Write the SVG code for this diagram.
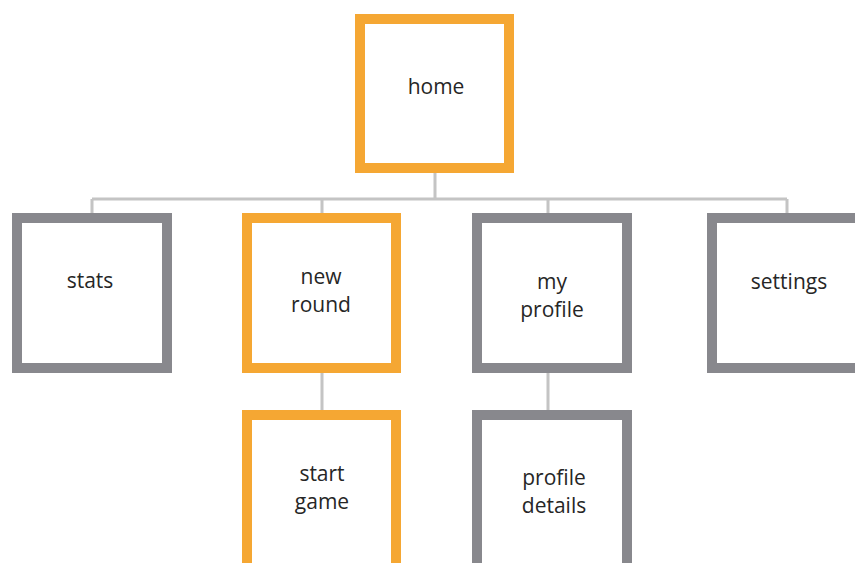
<svg xmlns="http://www.w3.org/2000/svg" width="855" height="563" viewBox="0 0 855 563">
<style>
.o{fill:#fff;stroke:#f5a733;stroke-width:10}
.g{fill:#fff;stroke:#88888d;stroke-width:10}
.c{fill:none;stroke:#c4c4c4;stroke-width:3}
text{font-family:"Open Sans","Liberation Sans",sans-serif;font-size:21px;fill:#262626;text-anchor:middle}
</style>
<rect width="855" height="563" fill="#fff"/>
<g id="connectors">
<path class="c" d="M435 173V199M92 199H787M92 199V213M322 199V213M548 199V213M787 199V213M322 373V410M548 373V410"/>
</g>
<g id="home"><rect class="o" x="360" y="19" width="149" height="149"/><text x="436" y="94">home</text></g>
<g id="stats"><rect class="g" x="17" y="218" width="150" height="150"/><text x="90" y="288">stats</text></g>
<g id="new-round"><rect class="o" x="247" y="218" width="149" height="150"/><text x="321" y="284">new</text><text x="321" y="312">round</text></g>
<g id="my-profile"><rect class="g" x="477" y="218" width="150" height="150"/><text x="552" y="289">my</text><text x="552" y="317">profile</text></g>
<g id="settings"><rect class="g" x="712" y="218" width="150" height="150"/><text x="789" y="289">settings</text></g>
<g id="start-game"><rect class="o" x="247" y="415" width="149" height="160"/><text x="322" y="481">start</text><text x="322" y="509">game</text></g>
<g id="profile-details"><rect class="g" x="477" y="415" width="150" height="160"/><text x="554" y="485">profile</text><text x="554" y="513">details</text></g>
</svg>
